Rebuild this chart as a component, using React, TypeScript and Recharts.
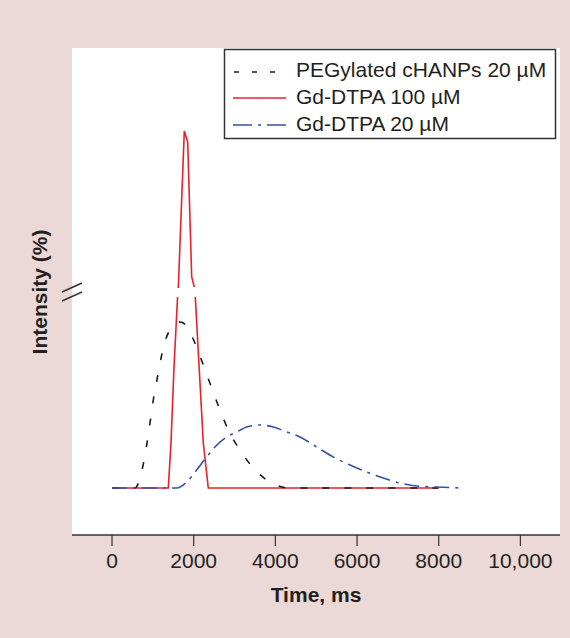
import React from "react";
import { LineChart, Line, XAxis, YAxis, CartesianGrid } from "recharts";

// x in ms, y in display intensity units (axis has no ticks)
const pegylated = [
  { x: 0, y: 0 }, { x: 560, y: 0 }, { x: 751, y: 21 }, { x: 849, y: 43 }, { x: 930, y: 65 },
  { x: 1011, y: 88 }, { x: 1109, y: 110 }, { x: 1217, y: 133 }, { x: 1378, y: 155 },
  { x: 1665, y: 166 }, { x: 1745, y: 165 }, { x: 2032, y: 145 }, { x: 2235, y: 123 },
  { x: 2441, y: 100 }, { x: 2644, y: 78 }, { x: 2847, y: 58 }, { x: 3133, y: 38 },
  { x: 3459, y: 20 }, { x: 3868, y: 6 }, { x: 4357, y: 0 }, { x: 8000, y: 0 },
];
const gd100Rise = [
  { x: 0, y: 0 }, { x: 1378, y: 0 }, { x: 1444, y: 45 }, { x: 1518, y: 121 }, { x: 1605, y: 191 },
];
const gd100Peak = [
  { x: 1623, y: 200 }, { x: 1770, y: 357 }, { x: 1853, y: 346 }, { x: 1951, y: 211 }, { x: 2015, y: 201 },
];
const gd100Fall = [
  { x: 2039, y: 191 }, { x: 2235, y: 45 }, { x: 2357, y: 0 }, { x: 7988, y: 0 },
];
const gd20 = [
  { x: 0, y: 0 }, { x: 1378, y: 0 }, { x: 1584, y: 0 }, { x: 1829, y: 6 }, { x: 2073, y: 18 },
  { x: 2318, y: 31 }, { x: 2521, y: 41 }, { x: 2766, y: 50 }, { x: 3053, y: 56 }, { x: 3297, y: 61 },
  { x: 3623, y: 63 }, { x: 3949, y: 61 }, { x: 4277, y: 56 }, { x: 4602, y: 51 }, { x: 5011, y: 41 },
  { x: 5417, y: 31 }, { x: 5826, y: 23 }, { x: 6235, y: 16 }, { x: 6641, y: 10 }, { x: 7050, y: 5 },
  { x: 7459, y: 2 }, { x: 7949, y: 1 }, { x: 8600, y: 0 },
];
const xTicks = [0, 2000, 4000, 6000, 8000, 10000];
const xTickLabels = ["0", "2000", "4000", "6000", "8000", "10,000"];
const seriesNames = ["PEGylated cHANPs 20 \u00b5M", "Gd-DTPA 100 \u00b5M", "Gd-DTPA 20 \u00b5M"];

const FONT = "'Liberation Sans', Arial, Helvetica, sans-serif";
const RED = "#e8212b";
const BLACK = "#1a1a1a";
const BLUE = "#3653a3";
const BG = "#ebd8d7";
const AX = "#333333";

export default function App() {
  return (
    <div style={{ position: "absolute", left: 0, top: 0, width: 570, height: 638, background: BG, fontFamily: FONT }}>
      <LineChart width={570} height={638} margin={{ top: 48, right: 10, bottom: 43, left: 72 }}>
        <CartesianGrid fill="#ffffff" horizontal={false} vertical={false} stroke="none" />
        <XAxis
          type="number"
          dataKey="x"
          domain={[-980, 10970]}
          ticks={xTicks}
          tickFormatter={(v: number) => xTickLabels[xTicks.indexOf(v)]}
          allowDataOverflow
          height={60}
          tickSize={11}
          tickMargin={7}
          axisLine={{ stroke: AX, strokeWidth: 1.5 }}
          tickLine={{ stroke: AX, strokeWidth: 1.2 }}
          tick={{ fill: "#231f20", fontSize: 21, fontFamily: FONT }}
        />
        <YAxis
          type="number"
          dataKey="y"
          domain={[-47, 440]}
          allowDataOverflow
          width={0}
          tick={false}
          tickLine={false}
          axisLine={{ stroke: AX, strokeWidth: 1.5 }}
        />
        <Line data={gd100Rise} dataKey="y" type="linear" stroke={RED} strokeWidth={1.6} dot={false} isAnimationActive={false} />
        <Line data={gd100Peak} dataKey="y" type="linear" stroke={RED} strokeWidth={1.6} dot={false} isAnimationActive={false} />
        <Line data={gd100Fall} dataKey="y" type="linear" stroke={RED} strokeWidth={1.6} dot={false} isAnimationActive={false} />
        <Line data={pegylated} dataKey="y" type="monotone" stroke={BLACK} strokeWidth={1.6} strokeDasharray="7 15" dot={false} isAnimationActive={false} />
        <Line data={gd20} dataKey="y" type="monotone" stroke={BLUE} strokeWidth={1.6} strokeDasharray="15 6 3 6" dot={false} isAnimationActive={false} />
      </LineChart>
      <svg width={570} height={638} style={{ position: "absolute", left: 0, top: 0, pointerEvents: "none" }}>
        {/* axis break marks */}
        <line x1={62} y1={292} x2={82} y2={283} stroke={AX} strokeWidth={1.5} />
        <line x1={62} y1={301} x2={82} y2={292} stroke={AX} strokeWidth={1.5} />
        {/* axis titles */}
        <text x={316} y={602} textAnchor="middle" fontSize={21} fontWeight="bold" fill="#231f20" fontFamily={FONT}>Time, ms</text>
        <text x={0} y={0} transform="translate(46.5,292) rotate(-90)" textAnchor="middle" fontSize={21} fontWeight="bold" fill="#231f20" fontFamily={FONT}>Intensity (%)</text>
        {/* legend */}
        <rect x={224.5} y={49.5} width={331} height={89} fill="#ffffff" stroke={AX} strokeWidth={1.5} />
        <line x1={233} y1={72} x2={286} y2={72} stroke={BLACK} strokeWidth={1.6} strokeDasharray="5 13" strokeDashoffset={-1} />
        <line x1={233} y1={98} x2={286} y2={98} stroke={RED} strokeWidth={1.6} />
        <line x1={233} y1={125} x2={286} y2={125} stroke={BLUE} strokeWidth={1.6} strokeDasharray="19 6 3 6" />
        <text x={296} y={77} fontSize={21} fill="#231f20" fontFamily={FONT}>{seriesNames[0]}</text>
        <text x={296} y={104} fontSize={21} fill="#231f20" fontFamily={FONT}>{seriesNames[1]}</text>
        <text x={296} y={131} fontSize={21} fill="#231f20" fontFamily={FONT}>{seriesNames[2]}</text>
      </svg>
    </div>
  );
}
